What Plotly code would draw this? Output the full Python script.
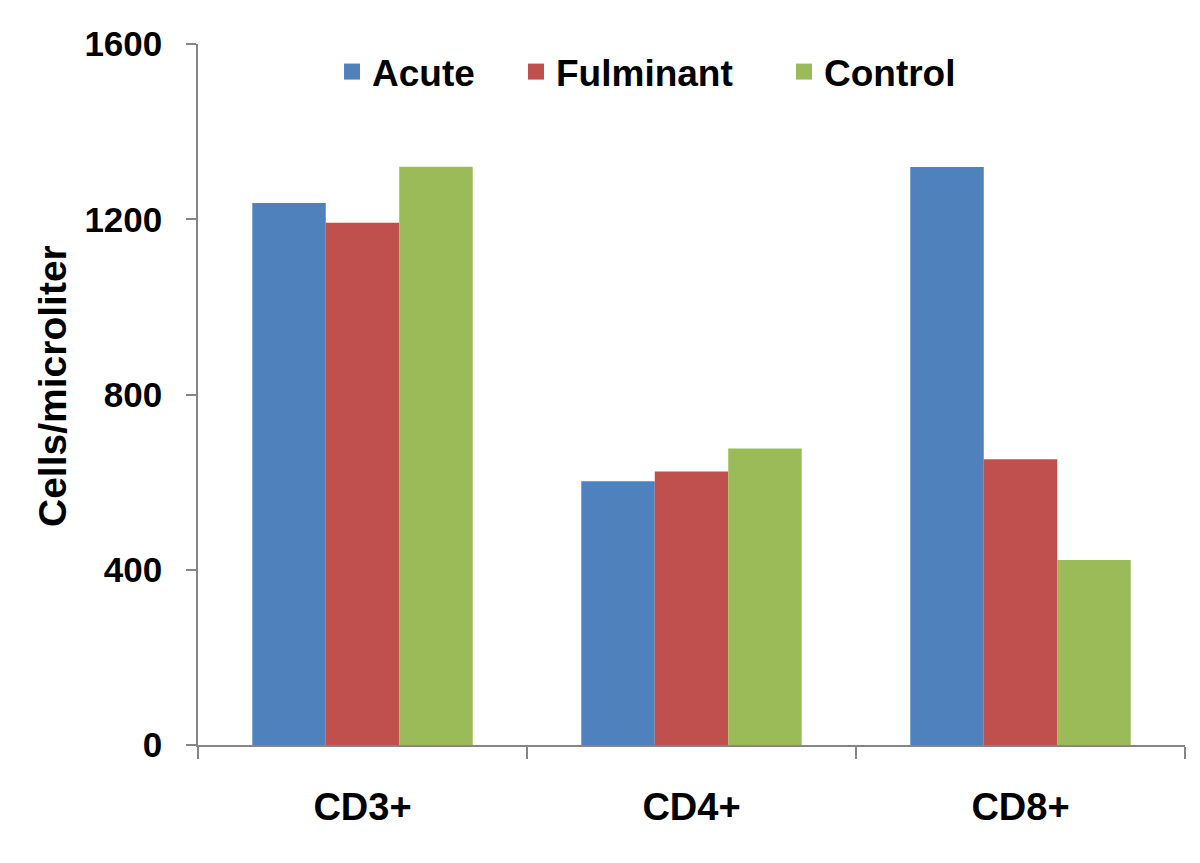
import plotly.graph_objects as go

categories = ["CD3+", "CD4+", "CD8+"]
series_names = ["Acute", "Fulminant", "Control"]
acute = [1237, 602, 1319]
fulminant = [1192, 624, 652]
control = [1320, 677, 422]
colors = ["#4F81BD", "#C0504D", "#9BBB59"]
y_ticks = [0, 400, 800, 1200, 1600]

FONT = "Liberation Sans, Arial, sans-serif"

fig = go.Figure()
for name, vals, col in zip(series_names, [acute, fulminant, control], colors):
    fig.add_trace(go.Bar(x=categories, y=vals, name=name, marker_color=col,
                         marker_line_width=0, showlegend=False))

legend_ids = ["legend", "legend2", "legend3"]
legend_x = [0.1358, 0.3222, 0.5937]
for name, col, lid in zip(series_names, colors, legend_ids):
    fig.add_trace(go.Scatter(x=[None], y=[None], mode="markers", name=name,
                             marker=dict(symbol="square", size=20, color=col),
                             showlegend=True, legend=lid))

leg_common = dict(orientation="h", xanchor="left", y=0.96, yanchor="middle",
                  font=dict(family=FONT, size=37, weight="bold", color="black"),
                  bgcolor="rgba(0,0,0,0)", itemwidth=30)

axis_col = "#868686"
fig.update_layout(
    width=1200, height=863,
    margin=dict(l=190, r=23, t=36, b=126),
    paper_bgcolor="white", plot_bgcolor="white",
    barmode="group", bargap=0.33, bargroupgap=0,
    font=dict(family=FONT, color="black", size=35, weight="bold"),
    legend=dict(x=legend_x[0], **leg_common),
    legend2=dict(x=legend_x[1], **leg_common),
    legend3=dict(x=legend_x[2], **leg_common),
    xaxis=dict(showline=True, linecolor=axis_col, linewidth=1.5,
               ticks="outside", tickson="boundaries", ticklen=12, tickcolor=axis_col,
               tickwidth=1.5, showgrid=False,
               tickfont=dict(family=FONT, size=38, weight="bold"),
               ticklabelstandoff=28),
    yaxis=dict(range=[0, 1600], tickvals=y_ticks, showline=True, linecolor=axis_col,
               linewidth=1.5, ticks="outside", ticklen=10, tickcolor=axis_col, tickwidth=1.5,
               showgrid=False, zeroline=False,
               tickfont=dict(family=FONT, size=35, weight="bold"),
               ticklabelstandoff=17),
    annotations=[dict(text="Cells/microliter", xref="paper", yref="paper",
                      x=-0.148, y=0.512, xanchor="center", yanchor="middle",
                      textangle=-90, showarrow=False,
                      font=dict(family=FONT, size=39, weight="bold", color="black"))],
)

fig.write_html("out.html")
